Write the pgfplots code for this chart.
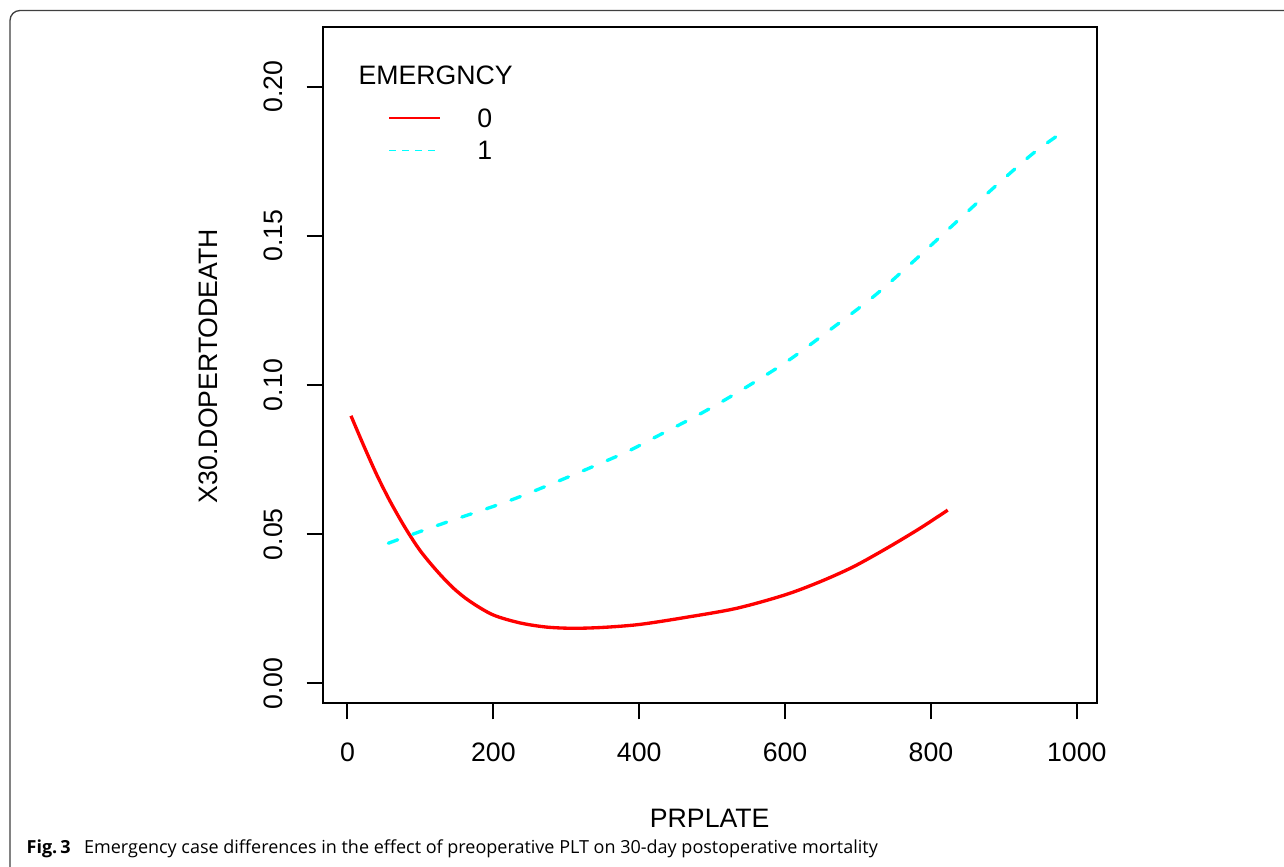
\documentclass[border=0pt]{standalone}
\usepackage{fontspec}
\setmainfont{Liberation Sans}
\newfontfamily\capfont{Open Sans}
\usepackage{pgfplots}
\pgfplotsset{compat=1.18}
\definecolor{rcyan}{RGB}{0,255,255}
\definecolor{rred}{RGB}{255,0,0}
\begin{document}
\begin{tikzpicture}[x=0.3pt,y=0.3pt]
\useasboundingbox (0,0) rectangle (1284,866);
\fill[white] (0,0) rectangle (1284,866);
% figure frame
\draw[line width=0.4pt, black!75, rounded corners=3pt] (10,-5) -- (10,855.5) -- (1290,855.5);

\begin{axis}[
  at={(96.81pt,48.81pt)}, anchor=south west,
  scale only axis, width=232.2pt, height=202.9pt,
  xmin=-34, xmax=1027.3, ymin=-0.00664, ymax=0.22,
  axis line style={line width=0.6pt},
  xtick={0,200,400,600,800,1000},
  ytick={0,0.05,0.1,0.15,0.2},
  tick align=outside, major tick length=4.8pt,
  tick style={line width=0.6pt, black},
  xtick pos=bottom, ytick pos=left,
  tick label style={font=\fontsize{8}{9.6}\selectfont, inner sep=0pt},
  xticklabel style={anchor=north},
  yticklabel style={rotate=90, anchor=south},
  xticklabel shift=6.8pt, yticklabel shift=7.1pt,
  /pgf/number format/assume math mode=true,
  x tick label style={/pgf/number format/1000 sep={}},
  y tick label style={/pgf/number format/.cd, fixed, fixed zerofill, precision=2},
  legend style={at={(axis description cs:0.0848,0.8794)}, anchor=north west,
    draw=none, fill=none, inner sep=0pt, outer sep=0pt,
    row sep=4.2pt, column sep=11.1pt, font=\fontsize{8}{9.6}\selectfont,
    nodes={inner sep=0pt, text height=5.6pt, text depth=0pt}},
  legend cell align=left,
  legend image code/.code={\draw[#1] (0pt,0pt) -- (15.2pt,0pt);},
]
\addplot[rred, line width=1pt, smooth, forget plot] coordinates {
(4.8,0.0897)(21.7,0.0800)(40,0.0700)(58.3,0.0611)(78.8,0.0523)(99.4,0.0446)
(122.3,0.0378)(145,0.0320)(168,0.0275)(199.5,0.0230)(236.5,0.0203)(273,0.0189)
(309.6,0.0185)(350.7,0.0188)(401,0.0198)(465,0.0222)(533.7,0.0252)(600,0.0297)
(648,0.0341)(693.5,0.0391)(739.3,0.0453)(785,0.0520)(823,0.0581)};
\addplot[rcyan, line width=1pt, smooth, line cap=round, dash pattern=on 3pt off 4.8pt, forget plot] coordinates {
(56,0.0470)(99.4,0.0509)(145,0.0548)(199.5,0.0593)(236.5,0.0626)(282,0.0671)
(328,0.0718)(382.8,0.0776)(419.3,0.0822)(483.3,0.0903)(538,0.0980)(602,0.1078)
(661.6,0.1185)(721,0.1296)(775.8,0.1414)(830.6,0.1537)(885.5,0.1660)(940.4,0.1777)
(981.5,0.1849)};
\addlegendimage{rred, line width=0.4pt}
\addlegendimage{rcyan, line width=0.4pt, dash pattern=on 2pt off 1.9pt}
\legend{0,1}
\end{axis}

% legend title, axis labels, caption
\node[anchor=base west, inner sep=0pt, font=\fontsize{8}{9.6}\selectfont] at (358,781) {EMERGNCY};
\node[anchor=center, inner sep=0pt, font=\fontsize{8}{9.6}\selectfont] at (709.7,48) {PRPLATE};
\node[anchor=center, inner sep=0pt, rotate=90, font=\fontsize{8}{9.6}\selectfont] at (208,500) {X30.DOPERTODEATH};
\node[anchor=base west, inner sep=0pt, font=\capfont\fontsize{5.4}{6.5}\selectfont] at (26,12.7)
  {\textbf{Fig.\,3}\hspace{0.75em}Emergency case differences in the effect of preoperative PLT on 30-day postoperative mortality};
\end{tikzpicture}
\end{document}
